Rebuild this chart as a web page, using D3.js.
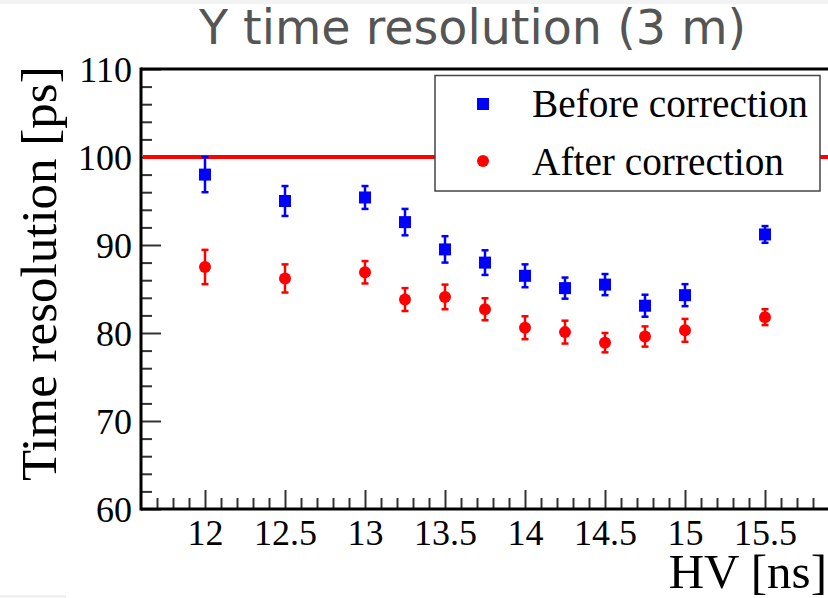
<!DOCTYPE html>
<html><head><meta charset="utf-8">
<script src="https://cdn.jsdelivr.net/npm/d3@7"></script>
<style>
html,body{margin:0;padding:0;background:#fff;}
svg{display:block;}
</style></head>
<body>
<svg id="chart" width="828" height="598"></svg>
<script>
// ---- data ----
const hv = [12, 12.5, 13, 13.25, 13.5, 13.75, 14, 14.25, 14.5, 14.75, 15, 15.5];
const before = [98.0, 95.0, 95.4, 92.6, 89.5, 88.0, 86.5, 85.1, 85.5, 83.1, 84.3, 91.2];
const beforeErr = [2.0, 1.7, 1.3, 1.5, 1.5, 1.4, 1.3, 1.2, 1.2, 1.25, 1.25, 0.95];
const after = [87.5, 86.2, 86.9, 83.8, 84.1, 82.7, 80.6, 80.1, 78.9, 79.6, 80.3, 81.8];
const afterErr = [1.95, 1.6, 1.27, 1.3, 1.4, 1.25, 1.3, 1.3, 1.1, 1.15, 1.3, 0.9];
const xTicks = [12, 12.5, 13, 13.5, 14, 14.5, 15, 15.5];
const yTicks = [60, 70, 80, 90, 100, 110];
const threshold = 100;
const title = "Y time resolution (3 m)";
const xTitle = "HV [ns]";
const yTitle = "Time resolution [ps]";
const legendLabels = ["Before correction", "After correction"];

// ---- layout ----
const svg = d3.select("#chart");
const L = 141, R = 829, T = 69, B = 509;
const x = d3.scaleLinear().domain([11.6, 15.9]).range([L, R]);
const y = d3.scaleLinear().domain([60, 110]).range([B, T]);

svg.append("rect").attr("x",0).attr("y",0).attr("width",828).attr("height",4).attr("fill","#f3f3f3");
svg.append("rect").attr("x",0).attr("y",595).attr("width",66).attr("height",3).attr("fill","#f1f1f1");

// title
svg.append("text").attr("x", 472.5).attr("y", 44).attr("text-anchor","middle")
  .attr("font-family","DejaVu Sans, Verdana, sans-serif").attr("font-size",47.6)
  .attr("fill","#555").text(title);

const serif = "Liberation Serif, Times New Roman, serif";

// minor/major ticks
const xMinor = d3.range(117, 159).map(d => d/10).filter(d => !xTicks.some(t => Math.abs(t-d) < 1e-6));
const yMinor = d3.range(62, 110, 2).filter(d => d % 10 !== 0);

const gx = svg.append("g").attr("transform",`translate(0,${B})`);
gx.call(d3.axisBottom(x).tickValues(xMinor).tickSize(-11).tickFormat(""));
gx.call(g => g.select(".domain").remove());
const gx2 = svg.append("g").attr("transform",`translate(0,${B})`);
gx2.call(d3.axisBottom(x).tickValues(xTicks).tickSize(-19).tickFormat(d3.format("")).tickPadding(0));
gx2.select(".domain").remove();
gx2.selectAll(".tick text").attr("font-family", serif).attr("font-size", 36).attr("fill","#000")
  .attr("y", 36).attr("dy", 0);

const gy = svg.append("g").attr("transform",`translate(${L},0)`);
gy.call(d3.axisLeft(y).tickValues(yMinor).tickSize(-11).tickFormat(""));
gy.select(".domain").remove();
const gy2 = svg.append("g").attr("transform",`translate(${L},0)`);
gy2.call(d3.axisLeft(y).tickValues(yTicks).tickSize(-20).tickFormat(d3.format("")).tickPadding(0));
gy2.select(".domain").remove();
gy2.selectAll(".tick text").attr("font-family", serif).attr("font-size", 36).attr("fill","#000")
  .attr("x", -9).attr("dy", "0.36em");
svg.selectAll("g .tick line").attr("stroke","#333").attr("stroke-width",2);

// frame
svg.append("line").attr("x1",L).attr("x2",828).attr("y1",T).attr("y2",T).attr("stroke","#000").attr("stroke-width",3);
svg.append("line").attr("x1",L).attr("x2",828).attr("y1",B).attr("y2",B).attr("stroke","#000").attr("stroke-width",3);
svg.append("line").attr("x1",L).attr("x2",L).attr("y1",T-1.5).attr("y2",B+1.5).attr("stroke","#000").attr("stroke-width",3);

// threshold line
svg.append("line").attr("x1",L+2).attr("x2",828).attr("y1",y(threshold)).attr("y2",y(threshold))
  .attr("stroke","#ff0000").attr("stroke-width",4);

// data
function drawSeries(vals, errs, color, shape) {
  const g = svg.append("g");
  hv.forEach((h, i) => {
    const cx = x(h), cy = y(vals[i]);
    const y1 = y(vals[i] + errs[i]), y2 = y(vals[i] - errs[i]);
    g.append("line").attr("x1",cx).attr("x2",cx).attr("y1",y1).attr("y2",y2).attr("stroke",color).attr("stroke-width",2.5);
    [y1, y2].forEach(yy => g.append("line").attr("x1",cx-3.5).attr("x2",cx+3.5).attr("y1",yy).attr("y2",yy)
      .attr("stroke",color).attr("stroke-width",2.5));
    if (shape === "square") {
      g.append("rect").attr("x",cx-6).attr("y",cy-6).attr("width",12).attr("height",12).attr("fill",color);
    } else {
      g.append("circle").attr("cx",cx).attr("cy",cy).attr("r",6).attr("fill",color);
    }
  });
}
drawSeries(before, beforeErr, "#0000ff", "square");
drawSeries(after, afterErr, "#ff0000", "circle");

// legend
svg.append("rect").attr("x",435).attr("y",75.5).attr("width",385).attr("height",115.5)
  .attr("fill","#fff").attr("stroke","#444").attr("stroke-width",1.5);
svg.append("rect").attr("x",477).attr("y",98).attr("width",12).attr("height",12).attr("fill","#0000ff");
svg.append("circle").attr("cx",483).attr("cy",161).attr("r",6).attr("fill","#ff0000");
svg.append("text").attr("x",532).attr("y",117).attr("font-family",serif).attr("font-size",39.3).attr("fill","#000").text(legendLabels[0]);
svg.append("text").attr("x",532).attr("y",175).attr("font-family",serif).attr("font-size",39.3).attr("fill","#000").text(legendLabels[1]);

// axis titles
svg.append("text").attr("x",827).attr("y",588).attr("text-anchor","end")
  .attr("font-family",serif).attr("font-size",49).attr("fill","#000").text(xTitle);
svg.append("text").attr("transform","translate(56,481) rotate(-90)").attr("text-anchor","start")
  .attr("font-family",serif).attr("font-size",51).attr("fill","#000").text(yTitle);
</script>
</body></html>
